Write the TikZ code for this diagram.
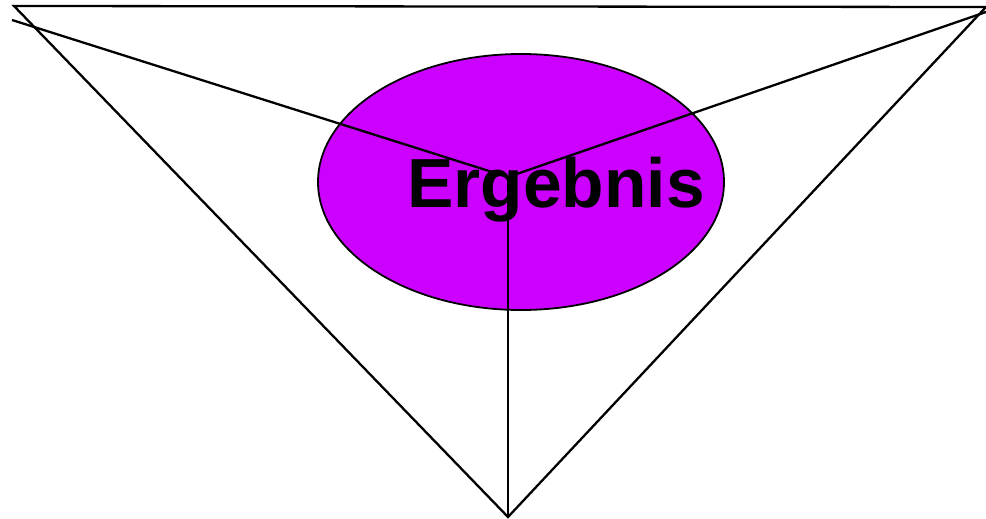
\documentclass[tikz,border=0pt]{standalone}
\usepackage{fontspec}
\setmainfont{Liberation Sans}
\usetikzlibrary{shapes.geometric}
\definecolor{ergfill}{RGB}{204,0,255}
\begin{document}
\begin{tikzpicture}[x=1pt,y=-1pt,line width=2.3pt]
  \useasboundingbox (0,0) rectangle (986,519);
  \node[ellipse,draw,fill=ergfill,minimum width=406,minimum height=256,line width=1.8pt] (erg) at (521,182) {};
  % corners of the triangle
  \coordinate (tl) at (14,6);
  \coordinate (tr) at (986,7);
  \coordinate (bt) at (508,517);
  \coordinate (mid) at (508,177);
  \coordinate (l) at (12,20);
  \coordinate (r) at (986,12);
  \draw (tl) -- (tr) -- (bt) -- cycle;
  \draw (l) -- (mid) -- (r);
  \draw (mid) -- (bt);
  \node[font=\fontsize{69.5}{69.5}\selectfont\bfseries,inner sep=0pt,anchor=base] (txt) at (556,207) {Ergebnis};
\end{tikzpicture}
\end{document}
